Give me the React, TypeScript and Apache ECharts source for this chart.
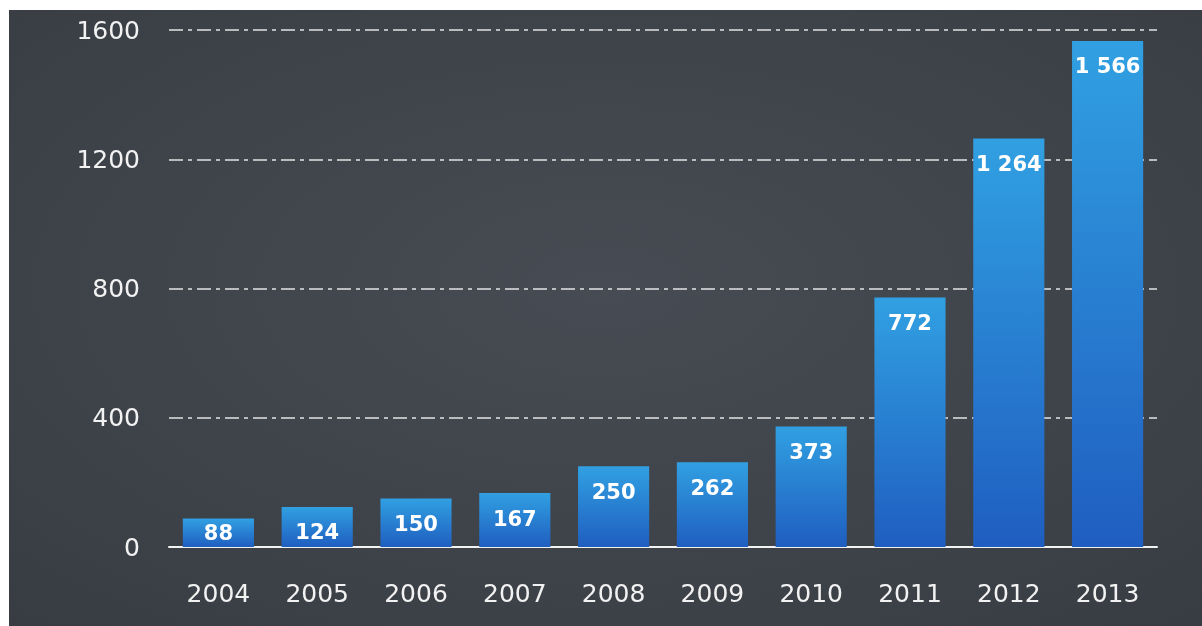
import React, { useEffect, useRef } from "react";
import * as echarts from "echarts";

const categories = ["2004", "2005", "2006", "2007", "2008", "2009", "2010", "2011", "2012", "2013"];
const values = [88, 124, 150, 167, 250, 262, 373, 772, 1264, 1566];
const yTicks = [0, 400, 800, 1200, 1600];

const fmt = (v: number) => String(v).replace(/\B(?=(\d{3})+(?!\d))/g, " ");

export default function App() {
  const ref = useRef<HTMLDivElement>(null);
  useEffect(() => {
    if (!ref.current) return;
    const chart = echarts.init(ref.current, undefined, { renderer: "svg" });
    const font = "'DejaVu Sans', sans-serif";
    chart.setOption({
      animation: false,
      backgroundColor: {
        type: "radial",
        x: 0.5,
        y: 0.45,
        r: 0.85,
        colorStops: [
          { offset: 0, color: "#474c54" },
          { offset: 1, color: "#363a40" },
        ],
      },
      grid: { left: 160, right: 45, top: 20, bottom: 79 },
      xAxis: {
        type: "category",
        data: categories,
        axisLine: { show: true, lineStyle: { color: "#f2f2f2", width: 2 } },
        axisTick: { show: false },
        axisLabel: { color: "#f2f2f2", fontSize: 25, fontFamily: font, margin: 34 },
      },
      yAxis: {
        type: "value",
        min: yTicks[0],
        max: yTicks[yTicks.length - 1],
        interval: 400,
        axisLine: { show: false },
        axisTick: { show: false },
        axisLabel: {
          color: "#f2f2f2",
          fontSize: 25,
          fontFamily: font,
          margin: 29,
          formatter: (v: number) => String(v),
        },
        splitLine: {
          lineStyle: { color: "rgba(255,255,255,0.85)", width: 1.5, type: [14, 5, 4, 5] },
        },
      },
      series: [
        {
          type: "bar",
          data: values.map((v) => (v < 100 ? { value: v, label: { position: "inside" } } : v)),
          barWidth: "72%",
          itemStyle: {
            color: {
              type: "linear",
              x: 0,
              y: 0,
              x2: 0,
              y2: 1,
              colorStops: [
                { offset: 0, color: "#31a0e2" },
                { offset: 1, color: "#1f5ec0" },
              ],
            },
          },
          label: {
            show: true,
            position: "insideTop",
            distance: 15,
            color: "#ffffff",
            fontSize: 21,
            fontWeight: "bold",
            fontFamily: font,
            formatter: (p: any) => fmt(p.value),
          },
        },
      ],
    });
    return () => chart.dispose();
  }, []);
  return (
    <div
      ref={ref}
      style={{ position: "fixed", left: 9, top: 10, right: 0, bottom: 0 }}
    />
  );
}
